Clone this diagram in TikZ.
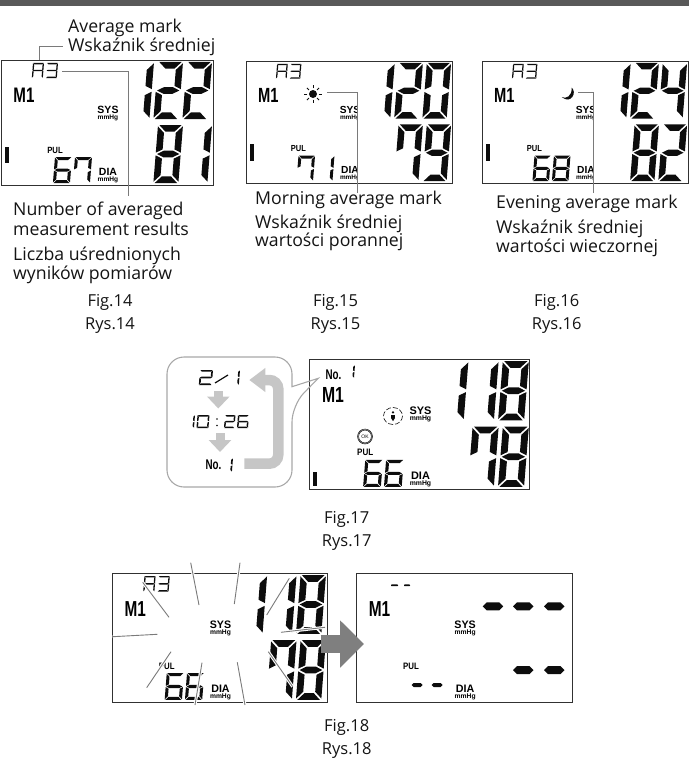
\documentclass[tikz,border=0pt]{standalone}
\usepackage{fontspec}
\setmainfont{Open Sans}
\setsansfont{Liberation Sans}
\usetikzlibrary{arrows.meta}
\definecolor{ink}{HTML}{0d0d0d}
\definecolor{band}{HTML}{595959}
\definecolor{leader}{HTML}{7a7a7a}
\definecolor{soft}{HTML}{c6c6c6}
\definecolor{bubble}{HTML}{a8a8a8}
\definecolor{bigarr}{HTML}{7f7f7f}
\definecolor{word}{HTML}{141414}

\newcommand{\segA}{\fill[ink] (\lcdG,0)--(\lcdW-\lcdG,0)--(\lcdW-\lcdG-\lcdT,\lcdT)--(\lcdG+\lcdT,\lcdT)--cycle;}
\newcommand{\segD}{\fill[ink] (\lcdG,\lcdH)--(\lcdW-\lcdG,\lcdH)--(\lcdW-\lcdG-\lcdT,\lcdH-\lcdT)--(\lcdG+\lcdT,\lcdH-\lcdT)--cycle;}
\newcommand{\segF}{\fill[ink] (0,\lcdG)--(\lcdT,\lcdG+\lcdT)--(\lcdT,\lcdM-\lcdG-.5*\lcdT)--(0,\lcdM-\lcdG)--cycle;}
\newcommand{\segE}{\fill[ink] (0,\lcdH-\lcdG)--(\lcdT,\lcdH-\lcdG-\lcdT)--(\lcdT,\lcdM+\lcdG+.5*\lcdT)--(0,\lcdM+\lcdG)--cycle;}
\newcommand{\segB}{\fill[ink] (\lcdW,\lcdG)--(\lcdW-\lcdT,\lcdG+\lcdT)--(\lcdW-\lcdT,\lcdM-\lcdG-.5*\lcdT)--(\lcdW,\lcdM-\lcdG)--cycle;}
\newcommand{\segC}{\fill[ink] (\lcdW,\lcdH-\lcdG)--(\lcdW-\lcdT,\lcdH-\lcdG-\lcdT)--(\lcdW-\lcdT,\lcdM+\lcdG+.5*\lcdT)--(\lcdW,\lcdM+\lcdG)--cycle;}
\newcommand{\segG}{\fill[ink] (\lcdG,\lcdM)--(\lcdG+\lcdT,\lcdM-.5*\lcdT)--(\lcdW-\lcdG-\lcdT,\lcdM-.5*\lcdT)--(\lcdW-\lcdG,\lcdM)--(\lcdW-\lcdG-\lcdT,\lcdM+.5*\lcdT)--(\lcdG+\lcdT,\lcdM+.5*\lcdT)--cycle;}

\newcommand{\digZ}{A,B,C,D,E,F}
\newcommand{\digI}{B,C}
\newcommand{\digII}{A,B,G,E,D}
\newcommand{\digIII}{A,B,G,C,D}
\newcommand{\digIV}{F,G,B,C}
\newcommand{\digVI}{A,F,G,E,D,C}
\newcommand{\digVII}{F,A,B,C}
\newcommand{\digVIII}{A,B,C,D,E,F,G}
\newcommand{\digIX}{A,B,C,D,F,G}
\newcommand{\digAv}{A,B,C,E,F,G}

% [thickness]{x}{y}{w}{h}{digit name}
\newcommand{\lcdnum}[6][6.6]{%
  \begin{scope}[shift={(#2,#3)},xslant=.08]
    \def\lcdT{#1}\def\lcdW{#4}\def\lcdH{#5}
    \pgfmathsetmacro\lcdM{#5/2}
    \pgfmathsetmacro\lcdG{#1*.2}
    \edef\lcdlist{\csname dig#6\endcsname}
    \foreach \s in \lcdlist {\csname seg\s\endcsname}
  \end{scope}}

\newcommand{\lcdbase}{%
  \draw[lcdbox] (0,0) rectangle (212,125);
  \node[mone] (m) at (23,35) {M1};
  \node[unitbig] (sys) at (107,50) {SYS};
  \node[unitsmall] (syshg) at (107,58) {mmHg};
  \node[unitbig] (dia) at (107,112) {DIA};
  \node[unitsmall] (diahg) at (107,120) {mmHg};
  \node[pul] (pul) at (54,90) {PUL};}

\newcommand{\lcdavg}{%
  \lcdnum[1.3]{32}{3}{11}{15}{Av}
  \lcdnum[1.3]{46}{3}{11}{15}{III}}

% top row: 3 cells, bottom row: 2 cells, pulse: 2 cells
\newcommand{\lcdvalues}[7]{%
  \lcdnum{128}{2}{25}{57}{#1}
  \lcdnum{157}{2}{25}{57}{#2}
  \lcdnum{186}{2}{25}{57}{#3}
  \lcdnum{157}{65}{25}{58}{#4}
  \lcdnum{186}{65}{25}{58}{#5}
  \lcdnum[3]{54}{97}{17}{26}{#6}
  \lcdnum[3]{74}{97}{17}{26}{#7}}

\begin{document}
\begin{tikzpicture}[x=1pt,y=-1pt,
  lcdview/.style n args={4}{shift={(#1,#2)},xscale=#3,yscale=#4,transform shape},
  lcdbox/.style={draw=ink!85, line width=.9pt},
  mone/.style={font=\sffamily\bfseries\fontsize{21}{21}\selectfont, xscale=.72, inner sep=0pt},
  unitbig/.style={font=\sffamily\bfseries\fontsize{10.5}{10.5}\selectfont, inner sep=0pt},
  unitsmall/.style={font=\sffamily\bfseries\fontsize{6.6}{7}\selectfont, inner sep=0pt},
  pul/.style={font=\sffamily\fontsize{9}{9}\selectfont\bfseries, xscale=.86, inner sep=0pt},
  nofont/.style={font=\sffamily\bfseries\fontsize{14}{14}\selectfont, xscale=.7, inner sep=0pt},
  lbl/.style={font=\fontsize{17.7}{20}\selectfont, text=word, anchor=base west, inner sep=0pt},
  figcap/.style={font=\fontsize{16.5}{18}\selectfont, text=word, anchor=base, inner sep=0pt},
  lead/.style={draw=leader, line width=.8pt},
  burst/.style={draw=leader, line width=.9pt, preaction={draw=white, line width=3pt}},
  softarr/.style={draw=soft, line width=9pt, -{Triangle[length=12pt,width=22pt]}},
  lvl/.style={fill=ink}
]
  \useasboundingbox (0,0) rectangle (689,760);
  \fill[band] (0,0) rectangle (689,6);

  \begin{scope}[lcdview={1}{60}{1}{1}, name prefix=a-]
    \lcdbase \lcdavg
    \lcdvalues{I}{II}{II}{VIII}{I}{VI}{VII}
    \fill[lvl] (4,87) rectangle (8,103);
  \end{scope}
  \begin{scope}[lcdview={246}{61}{.972}{.976}, name prefix=b-]
    \lcdbase \lcdavg
    \lcdvalues{I}{II}{Z}{VII}{IX}{VII}{I}
    \fill[lvl] (4,85) rectangle (8,102);
  \end{scope}
  \begin{scope}[lcdview={482}{61}{.972}{.976}, name prefix=c-]
    \lcdbase \lcdavg
    \lcdvalues{I}{II}{IV}{VIII}{II}{VI}{VIII}
    \fill[lvl] (4,85) rectangle (8,102);
  \end{scope}
  \begin{scope}[lcdview={309}{359}{1.042}{1.04}, name prefix=d-]
    \lcdbase
    \lcdvalues{I}{I}{VIII}{VII}{VIII}{VI}{VI}
    \fill[lvl] (4,109) rectangle (8,122);
  \end{scope}
  \begin{scope}[lcdview={112}{573}{1.014}{1.032}, name prefix=e-]
    \lcdbase \lcdavg
    \lcdvalues{I}{I}{VIII}{VII}{VIII}{VI}{VI}
  \end{scope}
  \begin{scope}[lcdview={356}{573}{1.02}{1.032}, name prefix=f-]
    \lcdbase
  \end{scope}

  % marks of the average views
  \coordinate (sun) at (313,94);
  \fill[ink] (sun) circle (4);
  \foreach \a in {0,45,...,315}
    \draw[ink, line width=.9pt] ([shift={(\a:5.7)}]sun) -- ([shift={(\a:8.6)}]sun);
  \fill[ink] (571.5,87.5) .. controls (577.5,92) and (571,105) .. (561.7,97)
    .. controls (566,99.5) and (572.5,96) .. (571.5,87.5) -- cycle;

  \fill[white] (358,100) rectangle (364,125);
  \fill[white] (358,160) rectangle (364,183);
  \fill[white] (594,100) rectangle (600,125);
  \fill[white] (594,160) rectangle (600,183);

  \coordinate (avgtop) at (39.3,60);
  \coordinate (avgelbow) at (39.3,46);
  \coordinate (avgend) at (63,46);
  \coordinate (numstart) at (62,71);
  \coordinate (numelbow) at (128.5,71);
  \coordinate (numend) at (128.5,196);
  \coordinate (monstart) at (327,92.7);
  \coordinate (monelbow) at (357.3,92.7);
  \coordinate (monend) at (357.3,192.7);
  \coordinate (evestart) at (578,92.3);
  \coordinate (eveelbow) at (593.3,92.3);
  \coordinate (eveend) at (593.3,192.7);
  \draw[lead] (avgtop) -- (avgelbow) -- (avgend);
  \draw[lead] (numstart) -- (numelbow) -- (numend);
  \draw[lead] (monstart) -- (monelbow) -- (monend);
  \draw[lead] (evestart) -- (eveelbow) -- (eveend);

  \node[lbl] (avgen) at (68,32.5) {Average mark};
  \node[lbl] (avgpl) at (68,52) {Wskaźnik średniej};
  \node[lbl] (numen) at (13,215) {Number of averaged};
  \node[lbl] (numen2) at (13,235) {measurement results};
  \node[lbl] (numpl) at (13,260) {Liczba uśrednionych};
  \node[lbl] (numpl2) at (13,279.5) {wyników pomiarów};
  \node[lbl] (monen) at (255,204) {Morning average mark};
  \node[lbl] (monpl) at (255,228.3) {Wskaźnik średniej};
  \node[lbl] (monpl2) at (255,246.7) {wartości porannej};
  \node[lbl] (eveen) at (496,208.3) {Evening average mark};
  \node[lbl] (evepl) at (496,233.3) {Wskaźnik średniej};
  \node[lbl] (evepl2) at (496,252.7) {wartości wieczornej};

  \foreach \n/\cx/\fy/\ry in {14/110/306.7/329.3, 15/335.5/306.7/329.3, 16/556.7/306.7/329.3,
                              17/346.7/523.3/546, 18/346.7/731.7/754} {
    \node[figcap] (fig\n) at (\cx,\fy) {Fig.\n};
    \node[figcap] (rys\n) at (\cx,\ry) {Rys.\n};
  }

  % callout of the date / time / number cycle
  \draw[draw=bubble, line width=1.1pt] (292,386.7)
    {[rounded corners=17pt] -- (292,357) -- (167,357) -- (167,487) -- (292,487) -- (292,405)}
    -- (318.3,378.3) -- cycle;

  \lcdnum[1.7]{200}{370}{13}{15}{II}
  \draw[ink, line width=1.2pt] (215,383) -- (228,375);
  \lcdnum[1.7]{227}{370}{13}{15}{I}
  \lcdnum[1.5]{183}{415}{12}{13}{I}
  \lcdnum[1.5]{197.5}{415}{12}{13}{Z}
  \fill[ink] (217,419) circle (.9) (217,425.5) circle (.9);
  \lcdnum[1.5]{225}{415}{10.5}{13}{II}
  \lcdnum[1.5]{238}{415}{11}{13}{VI}
  \node[nofont] (cycno) at (213.5,465) {No.};
  \lcdnum[1.7]{221}{458}{12}{14}{I}

  \coordinate (downa) at (218.3,391);
  \coordinate (downb) at (218.3,408.5);
  \coordinate (downc) at (220,433);
  \coordinate (downd) at (220,452);
  \draw[softarr] (downa) -- (downb);
  \draw[softarr] (downc) -- (downd);

  \coordinate (backa) at (244.3,463.7);
  \coordinate (backb) at (278.3,463.7);
  \coordinate (backc) at (278.3,380);
  \coordinate (backd) at (249.3,380);
  \draw[draw=soft, line width=10.5pt, rounded corners=9pt, -{Triangle[length=16pt,width=23pt]}]
    (backa) -- (backb) -- (backc) -- (backd);

  % additions to the number view
  \node[nofont] (nono) at (333.5,375) {No.};
  \lcdnum[1.6]{346}{365}{9}{13}{I}
  \coordinate (pers) at (393,416);
  \draw[ink, line width=.6pt, dash pattern=on 5pt off 2pt] (pers) ellipse (9.5 and 8.5);
  \fill[ink] ([yshift=3.6pt]pers) circle (1.3);
  \fill[ink] (390.8,414.7) rectangle (395.2,417.5);
  \fill[ink] (391,418) -- (395,418) -- (393,421.2) -- cycle;
  \coordinate (okmark) at (365,436.5);
  \draw[ink, line width=.5pt] (okmark) circle (7.5) (okmark) circle (6.4);
  \node[font=\sffamily\fontsize{5}{5}\selectfont, inner sep=0pt] (oktxt) at (okmark) {OK};

  % flashing of the stored average
  \foreach \ax/\ay/\bx/\by in {190.7/562.7/199/605, 240/562.7/234.3/604, 289.3/578.3/266.7/615,
      325/627.3/281/632.3, 292.7/686.7/268.3/651.7, 237.3/662.3/245/705, 202/662.7/195/705,
      171/651.7/146.7/687.7, 157.3/634.3/112.7/636.7, 169/617.3/142.7/582.3}
    \draw[burst] (\ax,\ay) -- (\bx,\by);

  % erased view
  \fill[ink, rounded corners=.7pt] (391,584.3) rectangle (398,586.2);
  \fill[ink, rounded corners=.7pt] (404,584.3) rectangle (410,586.2);
  \foreach \dx/\dy in {482.7/606.3, 513/606.3, 544/606.3, 513/670, 544/670}
    \fill[ink] (\dx,\dy) -- ++(4,-4) -- ++(12.5,0) -- ++(4,4) -- ++(-4,4) -- ++(-12.5,0) -- cycle;
  \foreach \dx in {411.7, 431.7}
    \fill[ink] (\dx,685) -- ++(2,-2) -- ++(7,0) -- ++(2,2) -- ++(-2,2) -- ++(-7,0) -- cycle;

  \coordinate (goa) at (320.7,644);
  \coordinate (gob) at (364,644);
  \draw[draw=bigarr, line width=18pt, -{Triangle[length=24pt,width=46pt]}] (goa) -- (gob);
\end{tikzpicture}
\end{document}
